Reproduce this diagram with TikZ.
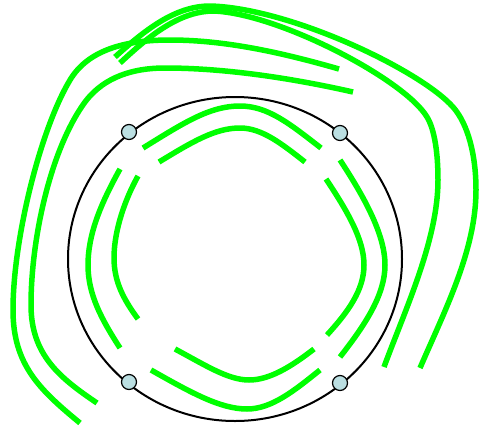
\documentclass[tikz,border=0pt]{standalone}
\definecolor{strandgreen}{RGB}{0,255,0}
\definecolor{portblue}{RGB}{187,223,226}
\begin{document}
\begin{tikzpicture}[x=1pt,y=-1pt,
    strand/.style={strandgreen, line width=5.5pt, line join=round},
    port/.style={circle, draw, fill=portblue, line width=1.2pt, minimum size=15pt, inner sep=0pt}]
    \useasboundingbox (0,0) rectangle (482,426);
    \coordinate (ring) at (235,259);
    \draw [line width=2pt] (ring) ellipse [x radius=167, y radius=162];
    % inner strands, near the ring
    \draw [strand] (143,148) .. controls (185,122) and (210,106) .. (240,106) .. controls (268,106) and (290,124) .. (321,148);
    \draw [strand] (340,160) .. controls (365,198) and (385,235) .. (385,265) .. controls (385,295) and (365,325) .. (340,357);
    \draw [strand] (151,370) .. controls (190,392) and (220,409) .. (247,409) .. controls (272,409) and (295,390) .. (320,370);
    \draw [strand] (120,169) .. controls (100,205) and (88,235) .. (88,265) .. controls (88,295) and (102,320) .. (120,348);
    % inner strands, inside
    \draw [strand] (159,162) .. controls (192,142) and (215,128) .. (240,128) .. controls (262,128) and (282,144) .. (305,162);
    \draw [strand] (326,179) .. controls (348,212) and (364,240) .. (364,265) .. controls (364,290) and (348,312) .. (327,335);
    \draw [strand] (175,349) .. controls (205,365) and (228,380) .. (249,380) .. controls (270,380) and (292,366) .. (314,349);
    \draw [strand] (138,176) .. controls (122,205) and (114,235) .. (114,258) .. controls (114,282) and (124,300) .. (138,319);
    % outer strands
    \draw [strand] (80,423) .. controls (40,390) and (13,365) .. (13,310) .. controls (13,240) and (40,130) .. (70,80)
        .. controls (88,50) and (125,40) .. (170,40) .. controls (230,40) and (290,55) .. (339,69);
    \draw [strand] (97,403) .. controls (60,378) and (31,355) .. (31,305) .. controls (31,240) and (50,150) .. (85,102)
        .. controls (100,82) and (125,68) .. (165,68) .. controls (230,68) and (300,80) .. (353,92);
    \draw [strand] (115,57) .. controls (145,30) and (175,6) .. (210,6) .. controls (290,8) and (420,70) .. (453,107)
        .. controls (468,124) and (476,155) .. (476,190) .. controls (476,250) and (445,310) .. (420,368);
    \draw [strand] (120,63) .. controls (150,35) and (180,11) .. (214,11) .. controls (280,14) and (405,80) .. (427,117)
        .. controls (435,130) and (438,155) .. (438,180) .. controls (438,240) and (405,310) .. (384,367);
    % ports on the ring
    \node [port] (nw) at (129,132) {};
    \node [port] (ne) at (340,133) {};
    \node [port] (sw) at (129,382) {};
    \node [port] (se) at (340,383) {};
\end{tikzpicture}
\end{document}
